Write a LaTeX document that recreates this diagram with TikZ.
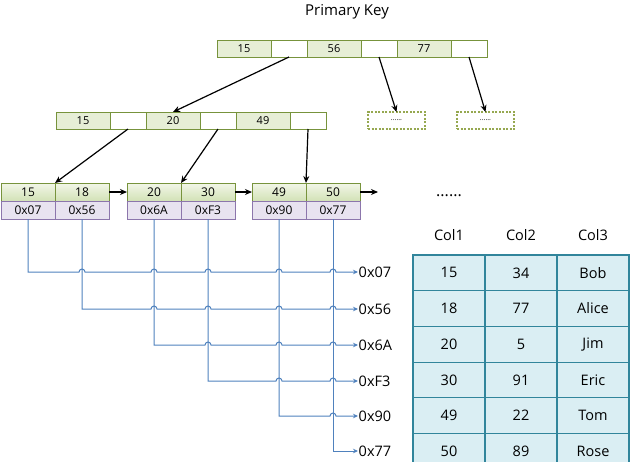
\documentclass[tikz,border=0pt]{standalone}
\usepackage{fontspec}
\setmainfont{Open Sans}
\usetikzlibrary{arrows.meta, positioning, calc}
\definecolor{keygreen}{RGB}{119, 147, 60}
\definecolor{keyfill}{RGB}{230, 238, 214}
\definecolor{leaftop}{RGB}{242, 246, 232}
\definecolor{leafbot}{RGB}{210, 226, 182}
\definecolor{dashgreen}{RGB}{150, 168, 80}
\definecolor{addrpurple}{RGB}{140, 118, 172}
\definecolor{addrfill}{RGB}{232, 227, 240}
\definecolor{rowteal}{RGB}{49, 133, 155}
\definecolor{rowfill}{RGB}{218, 238, 243}
\definecolor{linkblue}{RGB}{79, 129, 189}

\tikzset{
  cellbase/.style={draw, rectangle, inner sep=0pt, outer sep=0pt, line width=1pt},
  keycell/.style={cellbase, draw=keygreen, fill=keyfill, minimum width=54pt, minimum height=17pt, font=\fontsize{11}{11}\selectfont},
  ptrcell/.style={cellbase, draw=keygreen, fill=white, minimum width=36pt, minimum height=17pt},
  moreleaf/.style={cellbase, draw=dashgreen, dash pattern=on 2pt off 1.5pt, line width=1.3pt, minimum width=57pt, minimum height=17pt, font=\fontsize{7}{7}\selectfont},
  leafkey/.style={cellbase, draw=keygreen, top color=leaftop, bottom color=leafbot, minimum width=54pt, minimum height=18pt, font=\fontsize{12}{12}\selectfont},
  leafaddr/.style={cellbase, draw=addrpurple, fill=addrfill, minimum width=54pt, minimum height=18pt, font=\fontsize{12}{12}\selectfont},
  rowcell/.style={cellbase, draw=rowteal, fill=rowfill, line width=1.2pt, minimum width=72pt, minimum height=35.7pt, font=\fontsize{14.5}{14.5}\selectfont},
  colhead/.style={font=\fontsize{14.5}{14.5}\selectfont},
  addrlabel/.style={inner sep=0.5pt, anchor=west, font=\fontsize{14.5}{14.5}\selectfont},
  ptr/.style={-{Stealth[length=7pt, width=6pt]}, line width=1.2pt},
  link/.style={-{Stealth[length=5pt, width=4.5pt]}, draw=linkblue, line width=1pt},
}

\begin{document}
\begin{tikzpicture}[x=1pt, y=1pt]
  \useasboundingbox (0, 0) rectangle (631, -461);
  \clip (0, 0) rectangle (631, -461);

  \node[font=\fontsize{15}{15}\selectfont] (title) at (347, -12) {Primary Key};

  % Root node
  \node[keycell, anchor=west] (t1) at (217, -48.5) {15};
  \node[ptrcell, right=0pt of t1] (t1p) {};
  \node[keycell, right=0pt of t1p] (t2) {56};
  \node[ptrcell, right=0pt of t2] (t2p) {};
  \node[keycell, right=0pt of t2p] (t3) {77};
  \node[ptrcell, right=0pt of t3] (t3p) {};

  % Second level
  \node[keycell, anchor=west] (s1) at (56, -120.5) {15};
  \node[ptrcell, right=0pt of s1] (s1p) {};
  \node[keycell, right=0pt of s1p] (s2) {20};
  \node[ptrcell, right=0pt of s2] (s2p) {};
  \node[keycell, right=0pt of s2p] (s3) {49};
  \node[ptrcell, right=0pt of s3] (s3p) {};

  \node[moreleaf] (d1) at (396.5, -120.5) {......};
  \node[moreleaf] (d2) at (485.5, -120.5) {......};

  % Leaves
  \node[leafkey, anchor=north west] (lk1) at (1, -183) {15};
  \node[leafkey, right=0pt of lk1] (lk2) {18};
  \node[leafaddr, below=0pt of lk1] (la1) {0x07};
  \node[leafaddr, below=0pt of lk2] (la2) {0x56};

  \node[leafkey, anchor=north west] (lk3) at (127, -183) {20};
  \node[leafkey, right=0pt of lk3] (lk4) {30};
  \node[leafaddr, below=0pt of lk3] (lb1) {0x6A};
  \node[leafaddr, below=0pt of lk4] (lb2) {0xF3};

  \node[leafkey, anchor=north west] (lk5) at (252, -183) {49};
  \node[leafkey, right=0pt of lk5] (lk6) {50};
  \node[leafaddr, below=0pt of lk5] (lc1) {0x90};
  \node[leafaddr, below=0pt of lk6] (lc2) {0x77};

  \coordinate[right=18pt of lk6] (lnext);

  % Tree pointers
  \draw[ptr] (t1p.south) -- (s2.north);
  \draw[ptr] (t2p.south) -- (d1.north);
  \draw[ptr] (t3p.south) -- (d2.north);
  \draw[ptr] (s1p.south) -- (lk1.north east);
  \draw[ptr] (s2p.south) -- (lk3.north east);
  \draw[ptr] (s3p.south) -- (lk5.north east);
  \draw[ptr] (lk2.east) -- (lk3.west);
  \draw[ptr] (lk4.east) -- (lk5.west);
  \draw[ptr] (lk6.east) -- (lnext);

  % Row addresses
  \node[addrlabel] (p1) at (358, -272) {0x07};
  \node[addrlabel] (p2) at (358, -309) {0x56};
  \node[addrlabel] (p3) at (358, -345) {0x6A};
  \node[addrlabel] (p4) at (358, -381) {0xF3};
  \node[addrlabel] (p5) at (358, -416) {0x90};
  \node[addrlabel] (p6) at (358, -451) {0x77};

  % Address links with hops
  \draw[link] (la1.south) -- (la1.south |- p1.west)
    \foreach \c in {la2, lb1, lb2, lc1, lc2} {
      -- ([xshift=-3pt]\c.south |- p1.west) arc[start angle=180, end angle=0, radius=3pt]
    } -- (p1.west);
  \draw[link] (la2.south) -- (la2.south |- p2.west)
    \foreach \c in {lb1, lb2, lc1, lc2} {
      -- ([xshift=-3pt]\c.south |- p2.west) arc[start angle=180, end angle=0, radius=3pt]
    } -- (p2.west);
  \draw[link] (lb1.south) -- (lb1.south |- p3.west)
    \foreach \c in {lb2, lc1, lc2} {
      -- ([xshift=-3pt]\c.south |- p3.west) arc[start angle=180, end angle=0, radius=3pt]
    } -- (p3.west);
  \draw[link] (lb2.south) -- (lb2.south |- p4.west)
    \foreach \c in {lc1, lc2} {
      -- ([xshift=-3pt]\c.south |- p4.west) arc[start angle=180, end angle=0, radius=3pt]
    } -- (p4.west);
  \draw[link] (lc1.south) -- (lc1.south |- p5.west)
    -- ([xshift=-3pt]lc2.south |- p5.west) arc[start angle=180, end angle=0, radius=3pt]
    -- (p5.west);
  \draw[link] (lc2.south) |- (p6.west);

  % Table
  \node[font=\fontsize{16}{16}\selectfont] (more) at (449, -196) {......};
  \node[colhead] (h1) at (449, -235) {Col1};
  \node[colhead] (h2) at (521, -235) {Col2};
  \node[colhead] (h3) at (593, -235) {Col3};

  \node[rowcell, anchor=north west] (r1a) at (413, -255) {15};
  \node[rowcell, right=0pt of r1a] (r1b) {34};
  \node[rowcell, right=0pt of r1b] (r1c) {Bob};
  \node[rowcell, below=0pt of r1a] (r2a) {18};
  \node[rowcell, right=0pt of r2a] (r2b) {77};
  \node[rowcell, right=0pt of r2b] (r2c) {Alice};
  \node[rowcell, below=0pt of r2a] (r3a) {20};
  \node[rowcell, right=0pt of r3a] (r3b) {5};
  \node[rowcell, right=0pt of r3b] (r3c) {Jim};
  \node[rowcell, below=0pt of r3a] (r4a) {30};
  \node[rowcell, right=0pt of r4a] (r4b) {91};
  \node[rowcell, right=0pt of r4b] (r4c) {Eric};
  \node[rowcell, below=0pt of r4a] (r5a) {49};
  \node[rowcell, right=0pt of r5a] (r5b) {22};
  \node[rowcell, right=0pt of r5b] (r5c) {Tom};
  \node[rowcell, below=0pt of r5a] (r6a) {50};
  \node[rowcell, right=0pt of r6a] (r6b) {89};
  \node[rowcell, right=0pt of r6b] (r6c) {Rose};
\end{tikzpicture}
\end{document}
